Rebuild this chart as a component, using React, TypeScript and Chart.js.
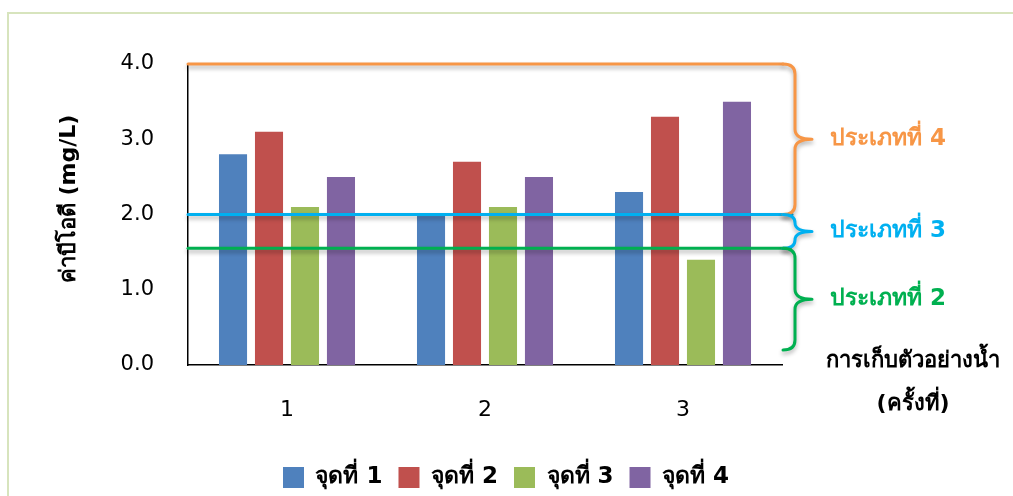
import React, { useEffect, useRef } from "react";
import { Chart, registerables } from "chart.js";

Chart.register(...registerables);

const categories = ["1", "2", "3"];
const seriesNames = ["จุดที่ 1", "จุดที่ 2", "จุดที่ 3", "จุดที่ 4"];
const point1 = [2.8, 2.0, 2.3];
const point2 = [3.1, 2.7, 3.3];
const point3 = [2.1, 2.1, 1.4];
const point4 = [2.5, 2.5, 3.5];
const seriesColors = ["#4F81BD", "#C0504D", "#9BBB59", "#8064A2"];

const yTicks = [0, 1, 2, 3, 4];

// Water quality class limits (BOD, mg/L) and the ranges their braces cover
const classNames = ["ประเภทที่ 4", "ประเภทที่ 3", "ประเภทที่ 2"];
const classColors = ["#F79646", "#00B0F0", "#00B050"];
const classLimits = [4.0, 2.0, 1.55];
const braceTops = [4.0, 2.0, 1.55];
const braceBottoms = [2.0, 1.55, 0.2];

const yTitle = "ค่าบีโอดี (mg/L)";
const xTitleLines = ["การเก็บตัวอย่างน้ำ", "(ครั้งที่)"];

const FONT = "Tahoma, 'DejaVu Sans', sans-serif";

// Centre the legend row under the whole figure rather than under the plot
const legendShiftPlugin = {
  id: "legendShift",
  afterLayout(chart: any) {
    const lg = chart.legend;
    if (lg) {
      lg.left += 115;
      lg.right += 115;
    }
  },
};

const annotationPlugin = {
  id: "classAnnotations",
  afterDatasetsDraw(chart: any) {
    const { ctx, chartArea, scales } = chart;
    const y = scales.y;
    const left = chartArea.left;
    const lineEnds = [chartArea.right + 1, chartArea.right + 10, chartArea.right + 8];
    const xV = chartArea.right + 13;
    const xT = chartArea.right + 30;

    ctx.save();
    ctx.lineCap = "round";
    ctx.lineJoin = "round";
    ctx.shadowColor = "rgba(0,0,0,0.3)";
    ctx.shadowBlur = 4;
    ctx.shadowOffsetY = 3;

    // horizontal limit lines
    classLimits.forEach((v, i) => {
      const py = y.getPixelForValue(v);
      ctx.strokeStyle = classColors[i];
      ctx.lineWidth = 3;
      ctx.beginPath();
      ctx.moveTo(left, py);
      ctx.lineTo(lineEnds[i], py);
      ctx.stroke();
    });

    // curly braces
    braceTops.forEach((t, i) => {
      const top = y.getPixelForValue(t);
      const bot = y.getPixelForValue(braceBottoms[i]);
      const mid = (top + bot) / 2;
      const r = Math.min(10, (bot - top) / 4);
      const xL = xV - 12;
      ctx.strokeStyle = classColors[i];
      ctx.lineWidth = 3;
      ctx.beginPath();
      ctx.moveTo(xL, top);
      ctx.quadraticCurveTo(xV, top, xV, top + r);
      ctx.lineTo(xV, mid - r);
      ctx.quadraticCurveTo(xV, mid, xT, mid);
      ctx.quadraticCurveTo(xV, mid, xV, mid + r);
      ctx.lineTo(xV, bot - r);
      ctx.quadraticCurveTo(xV, bot, xL, bot);
      ctx.stroke();
    });
    ctx.restore();

    ctx.save();
    ctx.textBaseline = "middle";
    ctx.textAlign = "left";
    ctx.font = `bold 23px ${FONT}`;
    braceTops.forEach((t, i) => {
      const top = y.getPixelForValue(t);
      const bot = y.getPixelForValue(braceBottoms[i]);
      ctx.fillStyle = classColors[i];
      ctx.fillText(classNames[i], xT + 18, (top + bot) / 2);
    });

    // axis titles
    ctx.fillStyle = "#000";
    ctx.textAlign = "center";
    ctx.font = `bold 22px ${FONT}`;
    ctx.fillText(xTitleLines[0], 913, chartArea.bottom - 4);
    ctx.fillText(xTitleLines[1], 913, chartArea.bottom + 39);

    ctx.translate(69, 199);
    ctx.rotate(-Math.PI / 2);
    ctx.fillText(yTitle, 0, 0);
    ctx.restore();
  },
};

export default function App() {
  const canvasRef = useRef<HTMLCanvasElement | null>(null);

  useEffect(() => {
    document.body.style.margin = "0";
    const canvas = canvasRef.current;
    if (!canvas) return;
    const series = [point1, point2, point3, point4];
    const chart = new Chart(canvas, {
      type: "bar",
      data: {
        labels: categories,
        datasets: series.map((d, i) => ({
          label: seriesNames[i],
          data: d,
          backgroundColor: seriesColors[i],
          borderWidth: 0,
          categoryPercentage: 0.727,
          barPercentage: 0.78,
        })),
      },
      options: {
        responsive: false,
        animation: false,
        layout: { padding: { left: 0, right: 231, top: 64, bottom: -3 } },
        plugins: {
          tooltip: { enabled: false },
          legend: {
            position: "bottom",
            labels: {
              boxWidth: 21,
              boxHeight: 21,
              padding: 16,
              color: "#000",
              font: { family: FONT, size: 23, weight: "bold" },
            },
          },
        },
        scales: {
          x: {
            grid: { display: false, drawTicks: false },
            border: { color: "#000", width: 1.5 },
            ticks: {
              color: "#000",
              padding: 32,
              font: { family: FONT, size: 22 },
            },
            afterFit: (s: any) => {
              s.height = 85;
            },
          },
          y: {
            min: 0,
            max: 4,
            afterBuildTicks: (s: any) => {
              s.ticks = yTicks.map((v) => ({ value: v }));
            },
            grid: { display: false, drawTicks: false },
            border: { color: "#000", width: 1.5 },
            ticks: {
              color: "#000",
              padding: 34,
              font: { family: FONT, size: 21 },
              callback: (v: any) => Number(v).toFixed(1),
            },
            afterFit: (s: any) => {
              s.width = 188;
            },
          },
        },
      },
      plugins: [legendShiftPlugin, annotationPlugin],
    });
    return () => chart.destroy();
  }, []);

  return (
    <div style={{ position: "relative", width: 1013, height: 496, overflow: "hidden", background: "#fff" }}>
      <div
        style={{
          position: "absolute",
          left: 7,
          top: 12,
          width: 1100,
          height: 600,
          borderLeft: "2px solid #D7E4BD",
          borderTop: "2px solid #D7E4BD",
        }}
      />
      <canvas ref={canvasRef} width={1013} height={496} style={{ position: "absolute", left: 0, top: 0, width: 1013, height: 496 }} />
    </div>
  );
}
